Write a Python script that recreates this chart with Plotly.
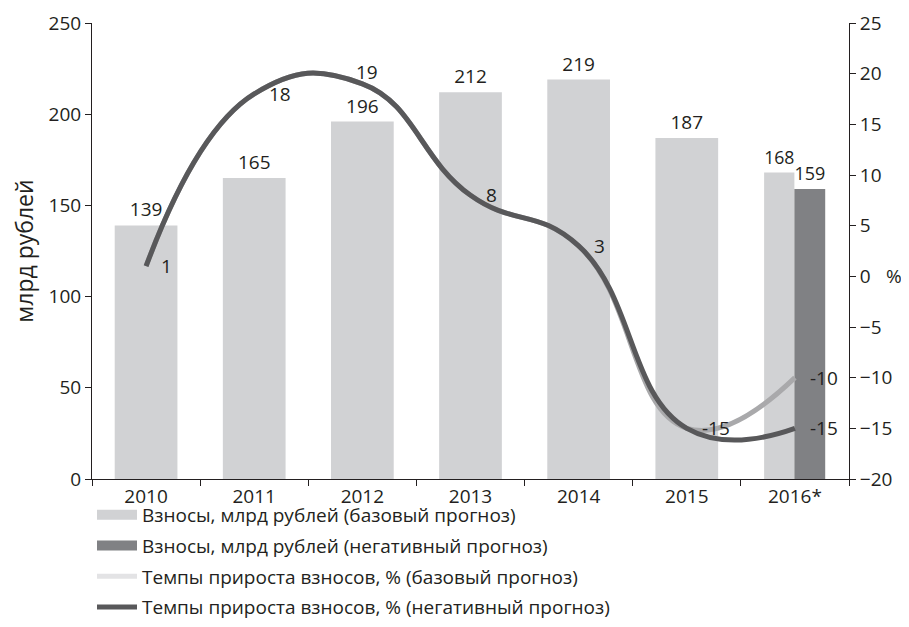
import plotly.graph_objects as go

years = ["2010", "2011", "2012", "2013", "2014", "2015", "2016*"]
contrib_base = [139, 165, 196, 212, 219, 187, 168]
contrib_neg_year = ["2016*"]
contrib_neg = [159]
growth_base = [1, 18, 19, 8, 3, -15, -10]
growth_neg = [1, 18, 19, 8, 3, -15, -15]

FONT = "Open Sans"
FS = 19
C_BASE_BAR = "#d1d2d4"
C_NEG_BAR = "#808184"
C_BASE_LINE = "#a9a9ab"
C_BASE_LINE_LEG = "#e3e3e5"
C_NEG_LINE = "#58585a"
C_TEXT = "#231f20"

W, H = 901, 619
LEG_TOP_PX = 488  # legend top, px from figure top

fig = go.Figure()

n = len(years)
base_width = [0.58] * (n - 1) + [0.28]
base_offset = [-0.29] * (n - 1) + [-0.285]

fig.add_trace(go.Bar(
    x=years, y=contrib_base, name="Взносы, млрд рублей (базовый прогноз)",
    marker=dict(color=C_BASE_BAR, line=dict(width=0)),
    width=base_width, offset=base_offset,
    text=[str(v) for v in contrib_base], textposition="outside",
    textfont=dict(size=FS, color=C_TEXT), cliponaxis=False,
    showlegend=False,
))
fig.add_trace(go.Bar(
    x=contrib_neg_year, y=contrib_neg, name="Взносы, млрд рублей (негативный прогноз)",
    marker=dict(color=C_NEG_BAR, line=dict(width=0)),
    width=[0.285], offset=[-0.005],
    text=[str(v) for v in contrib_neg], textposition="outside",
    textfont=dict(size=FS, color=C_TEXT), cliponaxis=False,
    showlegend=False,
))

# legend entries (wide rectangular swatches like the reference)
fig.add_trace(go.Scatter(
    x=[None], y=[None], mode="lines", line=dict(color=C_BASE_BAR, width=10),
    name="Взносы, млрд рублей (базовый прогноз)", legendgroup="a",
))
fig.add_trace(go.Scatter(
    x=[None], y=[None], mode="lines", line=dict(color=C_NEG_BAR, width=10),
    name="Взносы, млрд рублей (негативный прогноз)", legendgroup="b",
))

SMOOTH = 1.3
# base growth line (drawn underneath)
fig.add_trace(go.Scatter(
    x=years, y=growth_base, yaxis="y2", mode="lines",
    line=dict(color=C_BASE_LINE, width=5, shape="spline", smoothing=SMOOTH),
    showlegend=False, cliponaxis=False, hoverinfo="skip",
))
fig.add_trace(go.Scatter(
    x=[None], y=[None], yaxis="y2", mode="lines",
    line=dict(color=C_BASE_LINE_LEG, width=5),
    name="Темпы прироста взносов, % (базовый прогноз)", legendgroup="c",
))
fig.add_trace(go.Scatter(
    x=years, y=growth_neg, yaxis="y2", mode="lines",
    line=dict(color=C_NEG_LINE, width=5, shape="spline", smoothing=SMOOTH),
    name="Темпы прироста взносов, % (негативный прогноз)", legendgroup="d",
    cliponaxis=False,
))

# data labels for the growth lines (x given as category index)
annotations = []
for i, v in enumerate(growth_neg):
    if v == max(growth_neg):
        annotations.append(dict(x=i, y=v, xref="x", yref="y2", text=str(v),
                                showarrow=False, xanchor="center", yanchor="middle",
                                xshift=5, yshift=12, font=dict(size=FS)))
    else:
        annotations.append(dict(x=i, y=v, xref="x", yref="y2", text=str(v),
                                showarrow=False, xanchor="left", yanchor="middle",
                                xshift=13, font=dict(size=FS)))
annotations.append(dict(x=n - 1, y=growth_base[-1], xref="x", yref="y2",
                        text=str(growth_base[-1]), showarrow=False, xanchor="left",
                        yanchor="middle", xshift=13, font=dict(size=FS)))
annotations.append(dict(text="%", xref="paper", yref="paper", x=1.06, y=0.445,
                        showarrow=False, xanchor="center", yanchor="middle",
                        font=dict(size=FS)))

fig.update_layout(
    width=W, height=H,
    margin=dict(l=84, r=60, t=15, b=148),
    paper_bgcolor="white", plot_bgcolor="white",
    font=dict(family=FONT, size=FS, color=C_TEXT),
    barmode="overlay",
    showlegend=True,
    legend=dict(
        x=0.0, xref="paper", y=1 - LEG_TOP_PX / H, yref="container",
        xanchor="left", yanchor="top",
        orientation="v", tracegroupgap=3, bgcolor="rgba(0,0,0,0)",
        font=dict(size=FS), itemwidth=40, traceorder="grouped",
    ),
    xaxis=dict(
        type="category", tickson="boundaries", ticks="outside", ticklen=6,
        showline=True, linecolor=C_TEXT, linewidth=1, tickcolor=C_TEXT,
        showgrid=False, zeroline=False, range=[-0.5, 6.5], automargin=False,
    ),
    yaxis=dict(
        range=[0, 250], dtick=50, ticks="outside", ticklen=6,
        showline=True, linecolor=C_TEXT, tickcolor=C_TEXT,
        showgrid=False, zeroline=False, automargin=False,
        title=dict(text="млрд рублей", standoff=30),
    ),
    yaxis2=dict(
        overlaying="y", side="right", range=[-20, 25], dtick=5,
        ticks="outside", ticklen=6, showline=True, linecolor=C_TEXT,
        tickcolor=C_TEXT, showgrid=False, zeroline=False, automargin=False,
    ),
    annotations=annotations,
)

fig.write_html("out.html")
